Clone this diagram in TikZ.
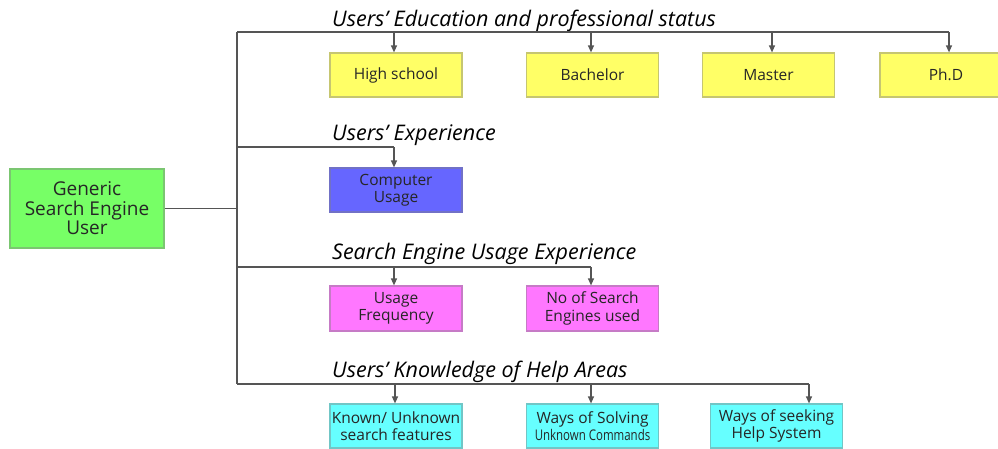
\documentclass[tikz,border=0pt]{standalone}
\usepackage{fontspec}
\setmainfont{Open Sans}
\usetikzlibrary{arrows.meta,positioning}

\definecolor{rootgreen}{HTML}{77FF66}
\definecolor{eduyellow}{HTML}{FFFF66}
\definecolor{expblue}{HTML}{6666FF}
\definecolor{useviolet}{HTML}{FF77FF}
\definecolor{helpcyan}{HTML}{66FFFF}
\definecolor{linegray}{HTML}{555555}

\begin{document}
\begin{tikzpicture}[x=1pt, y=-1pt,
		box/.style={draw=#1!55!gray, fill=#1, line width=1.2pt, minimum width=132pt, minimum height=44pt,
			inner sep=0pt, align=center, text=black!85, font=\fontsize{15.5}{17.5}\selectfont},
		head/.style={anchor=base west, inner sep=0pt, font=\fontsize{21.5}{23}\selectfont\itshape},
		link/.style={draw=linegray, line width=1.2pt},
		arr/.style={link, -{Triangle[width=6pt,length=7pt]}}]
		\useasboundingbox (0,0) rectangle (998,448);
		% root
		\node[box=rootgreen, minimum width=154pt, minimum height=79pt, font=\fontsize{19}{19.5}\selectfont] (user) at (87,208.5) {Generic\\Search Engine\\User};
		% headings
		\node[head] (lEdu) at (332,26) {Users’ Education and professional status};
		\node[head] (lExp) at (332,140) {Users’ Experience};
		\node[head] (lUse) at (332,259) {Search Engine Usage Experience};
		\node[head] (lHelp) at (332,377) {Users’ Knowledge of Help Areas};
		% boxes
		\foreach \name/\x/\txt in {e1/396/High school, e2/592.5/Bachelor, e3/768.5/Master, e4/946/Ph.D}
			\node[box=eduyellow] (\name) at (\x,75) {\txt};
		\node[box=expblue] (x1) at (396,190) {Computer\\Usage};
		\node[box=useviolet, minimum height=45pt] (u1) at (396,308.5) {Usage\\Frequency};
		\node[box=useviolet, minimum height=45pt] (u2) at (592.5,308.5) {No of Search\\Engines used};
		\node[box=helpcyan] (h1) at (396,426) {Known/ Unknown\\search features};
		\node[box=helpcyan] (h2) at (592.5,426) {Ways of Solving\\\scalebox{0.74}[0.95]{Unknown Commands}};
		\node[box=helpcyan] (h3) at (776.5,426) {Ways of seeking\\Help System};
		% buses
		\coordinate (tTop) at (237,32);
		\coordinate (tExp) at (237,147);
		\coordinate (tUse) at (237,267);
		\coordinate (tHelp) at (237,384);
		\draw[link] (user.east) -- (user.east -| tTop);
		\draw[link] (tTop) -- (tHelp);
		\draw[link] (tTop) -- (949,32) coordinate (eEnd);
		\draw[link] (tExp) -- (394,147) coordinate (xEnd);
		\draw[link] (tUse) -- (591,267) coordinate (uEnd);
		\draw[link] (tHelp) -- (809,384) coordinate (hEnd);
		% arrows
		\foreach \name/\x in {e1/394, e2/591, e3/772, e4/949}
			\draw[arr] (\x,32) -- (\x,32 |- \name.north);
		\draw[arr] (xEnd) -- (xEnd |- x1.north);
		\foreach \name/\x in {u1/394, u2/591}
			\draw[arr] (\x,267) -- (\x,267 |- \name.north);
		\foreach \name/\x in {h1/395, h2/591, h3/809}
			\draw[arr] (\x,384) -- (\x,384 |- \name.north);
	\end{tikzpicture}
\end{document}
